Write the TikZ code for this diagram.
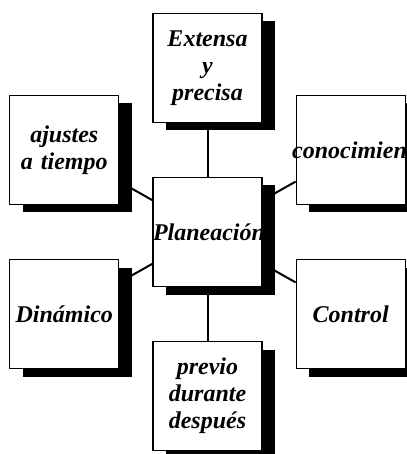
\documentclass[tikz,border=0pt]{standalone}
\usepackage{fontspec}
\setmainfont{Liberation Serif}
\usetikzlibrary{positioning,shadows,backgrounds}

\begin{document}
\begin{tikzpicture}[
    x=1pt, y=-1pt,
    node distance=54pt,
    every node/.style={font=\fontsize{24}{27}\selectfont\bfseries\itshape},
    box/.style={draw, line width=1.2pt, fill=white, align=center, inner sep=0pt, text width=109pt, minimum height=109pt,
      drop shadow={shadow xshift=13pt, shadow yshift=-8pt, fill=black, opacity=1}},
    link/.style={line width=2pt}
]
\useasboundingbox (0,0) rectangle (406,454);
\node[box] (plan) at (207.5,232) {Planeación};
\node[box, above=of plan] (extensa) {Extensa\\y\\precisa};
\node[box, below=of plan] (momento) {previo\\durante\\después};
\node[box, above left=-28pt and 33pt of plan] (ajustes) {ajustes\\a tiempo};
\node[box, above right=-28pt and 33pt of plan] (conoc) {\hspace*{-4pt}conocimiento};
\node[box, below left=-28pt and 33pt of plan] (dinamico) {Dinámico};
\node[box, below right=-28pt and 33pt of plan] (control) {Control};
\begin{scope}[on background layer]
\draw[link] (extensa) -- (plan);
\draw[link] (plan) -- (momento);
\draw[link] (ajustes.330) -- (plan.150);
\draw[link] (dinamico.30) -- (plan.210);
\draw[link] (conoc.210) -- (plan.30);
\draw[link] (control.150) -- (plan.330);
\end{scope}
\end{tikzpicture}
\end{document}
